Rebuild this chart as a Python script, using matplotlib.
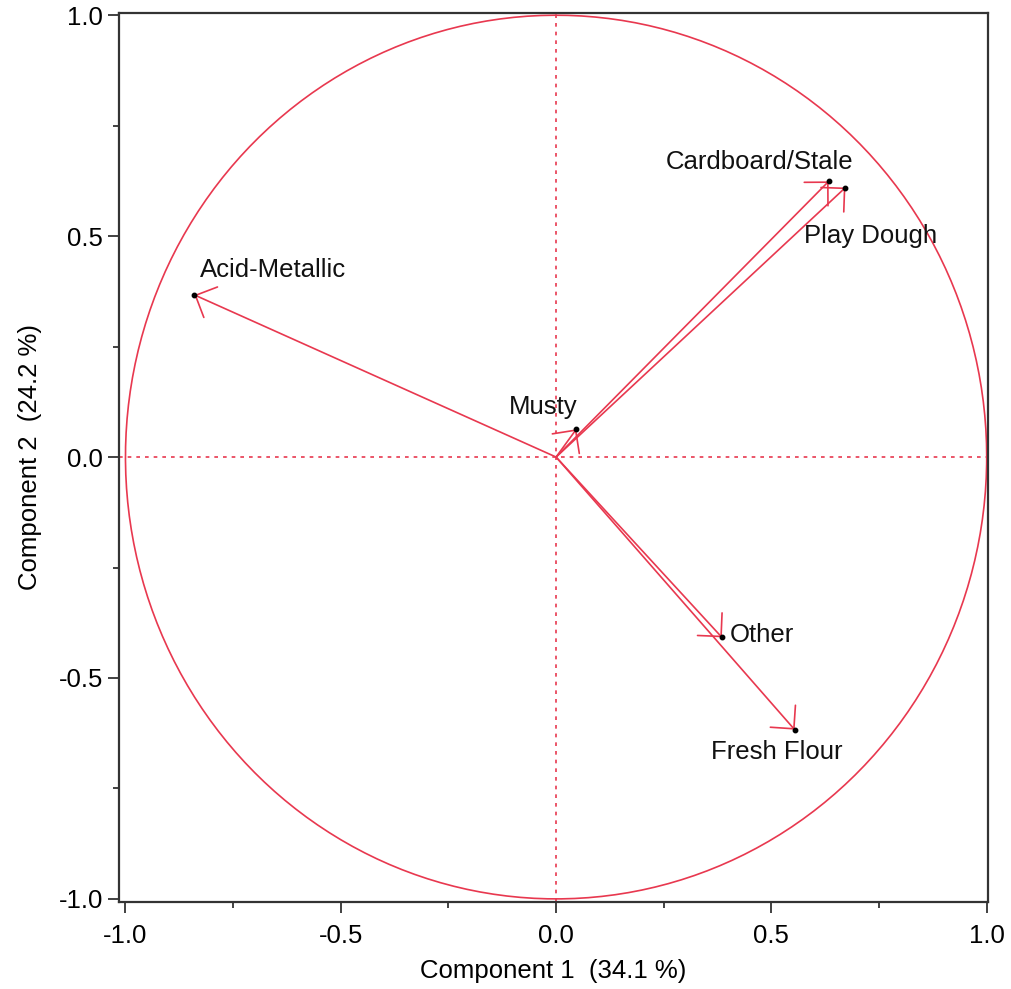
import matplotlib
matplotlib.use('Agg')
import matplotlib.pyplot as plt
import numpy as np

plt.rcParams['font.family'] = ['Liberation Sans', 'DejaVu Sans']

# loadings on the first two principal components
names = ['Acid-Metallic', 'Cardboard/Stale', 'Play Dough', 'Musty', 'Other', 'Fresh Flour']
comp1 = [-0.840, 0.633, 0.672, 0.047, 0.385, 0.554]
comp2 = [0.367, 0.624, 0.610, 0.063, -0.408, -0.617]
var1 = 34.1
var2 = 24.2

# label placement relative to the arrow tip (points), alignment
offsets = {
    'Acid-Metallic': ((4, 18), 'left'),
    'Cardboard/Stale': ((-50, 14), 'center'),
    'Play Dough': ((-30, -35), 'left'),
    'Musty': ((1, 16), 'right'),
    'Other': ((6, 2), 'left'),
    'Fresh Flour': ((-13, -16), 'center'),
}

red = '#E8384F'
fs = 18.5

fig = plt.figure(figsize=(10.11, 9.89), dpi=100)
ax = fig.add_axes([119/1011, 1-902/989, (988-119)/1011, (902-13)/989])

t = np.linspace(0, 2*np.pi, 400)
ax.plot(np.cos(t), np.sin(t), color=red, lw=1.2)
ax.axhline(0, color=red, lw=1.2, ls=(0, (2.2, 3)))
ax.axvline(0, color=red, lw=1.2, ls=(0, (2.2, 3)))

for n, x, y in zip(names, comp1, comp2):
    ax.annotate('', xy=(x, y), xytext=(0, 0),
                arrowprops=dict(arrowstyle='->,head_length=0.8,head_width=0.8',
                                color=red, lw=1.2, shrinkA=0, shrinkB=0,
                                mutation_scale=15))
    ax.plot(x, y, 'o', color='black', ms=3.2, zorder=5)
    off, ha = offsets[n]
    ax.annotate(n, xy=(x, y), xytext=off, textcoords='offset points',
                ha=ha, va='center', fontsize=fs, color='#111111')

ax.set_xlim(-1.015, 1.003)
ax.set_ylim(-1.007, 1.005)
ax.set_xticks([-1.0, -0.5, 0.0, 0.5, 1.0])
ax.set_yticks([-1.0, -0.5, 0.0, 0.5, 1.0])
ax.set_xticks(np.arange(-0.75, 1.0, 0.5), minor=True)
ax.set_yticks(np.arange(-0.75, 1.0, 0.5), minor=True)
ax.xaxis.set_major_formatter(matplotlib.ticker.FormatStrFormatter('%.1f'))
ax.yaxis.set_major_formatter(matplotlib.ticker.FormatStrFormatter('%.1f'))
ax.tick_params(which='major', length=8, width=1.3, labelsize=fs, color='#333333')
ax.tick_params(which='minor', length=4.5, width=1.3, color='#333333')
ax.tick_params(axis='x', pad=8)
ax.tick_params(axis='y', pad=3.5)
for s in ax.spines.values():
    s.set_linewidth(1.6)
    s.set_color('#333333')

ax.set_xlabel('Component 1  (%.1f %%)' % var1, fontsize=fs, labelpad=8)
ax.set_ylabel('Component 2  (%.1f %%)' % var2, fontsize=fs, labelpad=12)

fig.savefig('out.png', dpi=100)
